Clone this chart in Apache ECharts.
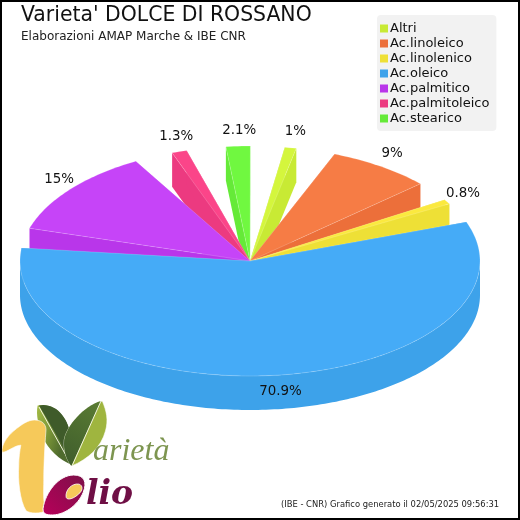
<!DOCTYPE html>
<html>
<head>
<meta charset="utf-8">
<style>
  html, body { margin: 0; padding: 0; background: #fff; }
  #main { width: 520px; height: 520px; }
</style>
<script src="https://cdn.jsdelivr.net/npm/echarts@6/dist/echarts.min.js"></script>
</head>
<body>
<div id="main"></div>
<script>
const categories = ['Altri', 'Ac.linoleico', 'Ac.linolenico', 'Ac.oleico', 'Ac.palmitico', 'Ac.palmitoleico', 'Ac.stearico']
const values = [1, 9, 0.8, 70.9, 15, 1.3, 2.1]
const valueLabels = ['1%', '9%', '0.8%', '70.9%', '15%', '1.3%', '2.1%']

const topColors = ['#d4f63d', '#f67c45', '#fbe93f', '#45abf7', '#c644f8', '#fb4589', '#70f840']
const sideColors = ['#c8ea34', '#ec6f3a', '#eee036', '#3da2ea', '#b936ea', '#ec3a80', '#65ea38']
// back to front
const drawOrder = [6, 0, 5, 1, 2, 4, 3]

const cx = 250
const cy = 261
const rx = 230
const ry = 115
const depth = 34
const gap = 10
const startAngle = 8.7
const sweep = 291.4

const total = values.reduce((a, b) => a + b, 0)
const scale = sweep / total

// 0 degrees is the top of the pie, angles run clockwise
function slicePoint(deg, dy = 0, kx = 1, ky = 1) {
  const t = deg * Math.PI / 180
  return [cx + rx * kx * Math.sin(t), cy - ry * ky * Math.cos(t) + dy]
}

function arcPoints(a0, a1, dy = 0) {
  const pts = []
  for (let a = a0; a < a1; a += 1) pts.push(slicePoint(a, dy))
  pts.push(slicePoint(a1, dy))
  return pts
}

let cursor = startAngle
const spans = values.map(v => {
  const span = [cursor, cursor + v * scale]
  cursor = span[1] + gap
  return span
})

function renderSlice(i) {
  const [a0, a1] = spans[i]
  const side = { fill: sideColors[i] }
  const children = []

  // radial walls
  ;[a0, a1].forEach(a => {
    const tip = slicePoint(a)
    children.push({
      type: 'polygon',
      shape: { points: [[cx, cy], tip, [tip[0], tip[1] + depth], [cx, cy + depth]] },
      style: side
    })
  })

  // outer wall, only the part that faces the viewer
  const w0 = Math.max(a0, 90)
  const w1 = Math.min(a1, 270)
  if (w1 > w0) {
    children.push({
      type: 'polygon',
      shape: { points: arcPoints(w0, w1).concat(arcPoints(w0, w1, depth).reverse()) },
      style: side
    })
  }

  children.push({
    type: 'polygon',
    shape: { points: [[cx, cy]].concat(arcPoints(a0, a1)) },
    style: { fill: topColors[i], stroke: 'rgba(255,255,255,0.18)', lineWidth: 1 }
  })

  const mid = (a0 + a1) / 2
  const pos = slicePoint(mid, 0, 1.07, 1.14)
  children.push({
    type: 'text',
    z2: 50,
    style: {
      text: valueLabels[i],
      x: pos[0] + 2,
      y: pos[1],
      align: 'center',
      verticalAlign: 'middle',
      fill: '#111',
      font: '13.4px "DejaVu Sans"'
    }
  })
  return { type: 'group', children }
}

function logoPath(pathData, style) {
  const nums = pathData.match(/-?\d+(\.\d+)?/g).map(Number)
  const xs = nums.filter((n, k) => k % 2 === 0)
  const ys = nums.filter((n, k) => k % 2 === 1)
  const x = Math.min(...xs)
  const y = Math.min(...ys)
  return {
    type: 'path',
    shape: { pathData, x, y, width: Math.max(...xs) - x, height: Math.max(...ys) - y, layout: 'cover' },
    style
  }
}

const logo = [
  logoPath('M39,407 C47,405 57,409 62,416 C67,422 70,430 71,440 L72,465 C60,460 49,450 44,438 C40,428 37,416 39,407 Z', {
    fill: { type: 'linear', x: 0, y: 0, x2: 1, y2: 0.2, colorStops: [{ offset: 0, color: '#a4bb45' }, { offset: 0.5, color: '#7f9a38' }, { offset: 1, color: '#4f6b2e' }] }
  }),
  logoPath('M39,407 C47,405 57,409 62,416 C67,422 70,430 71,440 L70,458 Z', { fill: '#3f5b2a' }),
  { type: 'line', shape: { x1: 39, y1: 407, x2: 68, y2: 459 }, style: { stroke: '#f3f5e0', lineWidth: 1 } },
  logoPath('M101,401 C105,411 107,420 104,431 C100,447 88,459 72,466 C67,460 64,450 65,440 C67,426 84,406 101,401 Z', {
    fill: '#9fb53f', stroke: '#fff', lineWidth: 0.6
  }),
  logoPath('M101,401 L72,466 C67,460 64,450 65,440 C67,426 84,406 101,401 Z', {
    fill: { type: 'linear', x: 0, y: 1, x2: 1, y2: 0, colorStops: [{ offset: 0, color: '#3e5c2c' }, { offset: 1, color: '#5a7c33' }] }
  }),
  { type: 'line', shape: { x1: 101, y1: 401, x2: 72, y2: 466 }, style: { stroke: '#f3f5e0', lineWidth: 1 } },
  logoPath('M3,452 C2,445 8,436 14,431 C22,424 28,420 34,420 C42,420 46,425 45,432 C44,445 43,465 43,480 C43,490 42,500 45,510 C40,513 30,513 26,510 C20,500 18,480 19,465 C19,458 20,450 21,445 C15,445 8,452 3,452 Z', {
    fill: '#f6c95a', stroke: '#fff', lineWidth: 0.6
  }),
  logoPath('M43,508 C45,492 58,475 72,475 C82,475 85,482 81,492 C76,505 62,515 50,514 C45,514 43,512 43,508 Z', {
    fill: { type: 'linear', x: 0, y: 1, x2: 1, y2: 0, colorStops: [{ offset: 0, color: '#b8005a' }, { offset: 1, color: '#7b1148' }] },
    stroke: '#fff',
    lineWidth: 1
  }),
  logoPath('M67,496 C66,490 72,484 78,485 C82,486 81,491 78,493 C74,497 68,499 67,496 Z', {
    fill: '#f6c95a', stroke: '#fff', lineWidth: 0.8
  }),
  { type: 'text', x: 93, y: 468, style: { text: 'arietà', fill: '#7d9550', font: 'italic 32px "Liberation Serif"', verticalAlign: 'bottom' } },
  { type: 'text', x: 86, y: 512, style: { text: 'lio', fill: '#6f0f45', font: 'italic bold 33px "DejaVu Serif"', verticalAlign: 'bottom' } }
]

const sliceSeries = drawOrder.map((i, order) => ({
  type: 'custom',
  name: categories[i],
  coordinateSystem: 'none',
  z: 2 + order,
  silent: true,
  itemStyle: { color: sideColors[i] },
  data: [values[i]],
  renderItem: () => renderSlice(i)
}))

const chart = echarts.init(document.getElementById('main'))
chart.setOption({
  animation: false,
  backgroundColor: '#fff',
  title: {
    text: "Varieta' DOLCE DI ROSSANO",
    subtext: 'Elaborazioni AMAP Marche & IBE CNR',
    left: 21,
    top: 6,
    padding: 0,
    itemGap: 5,
    textStyle: { fontFamily: 'DejaVu Sans', fontSize: 20.4, fontWeight: 'normal', color: '#111' },
    subtextStyle: { fontFamily: 'DejaVu Sans', fontSize: 12, color: '#222' }
  },
  legend: {
    data: categories,
    orient: 'vertical',
    left: 377,
    top: 15,
    padding: [6, 7, 5, 3],
    itemWidth: 8,
    itemHeight: 8,
    itemGap: 0,
    icon: 'rect',
    selectedMode: false,
    backgroundColor: '#f2f2f2',
    borderRadius: 4,
    textStyle: { fontFamily: 'DejaVu Sans', fontSize: 13, color: '#111', lineHeight: 15, height: 15, padding: [0, 0, 0, -3] }
  },
  series: sliceSeries.concat({
    type: 'custom',
    name: 'logo',
    coordinateSystem: 'none',
    silent: true,
    data: [0],
    renderItem: () => ({ type: 'group', children: logo })
  }),
  graphic: [
    {
      type: 'rect',
      z: 100,
      silent: true,
      shape: { x: 1, y: 1, width: 518, height: 518 },
      style: { fill: 'none', stroke: '#000', lineWidth: 2 }
    },
    {
      type: 'text',
      x: 281,
      y: 505,
      style: { text: '(IBE - CNR) Grafico generato il 02/05/2025 09:56:31', fill: '#222', font: '8.4px "DejaVu Sans"', verticalAlign: 'middle' }
    }
  ]
})
</script>
</body>
</html>
